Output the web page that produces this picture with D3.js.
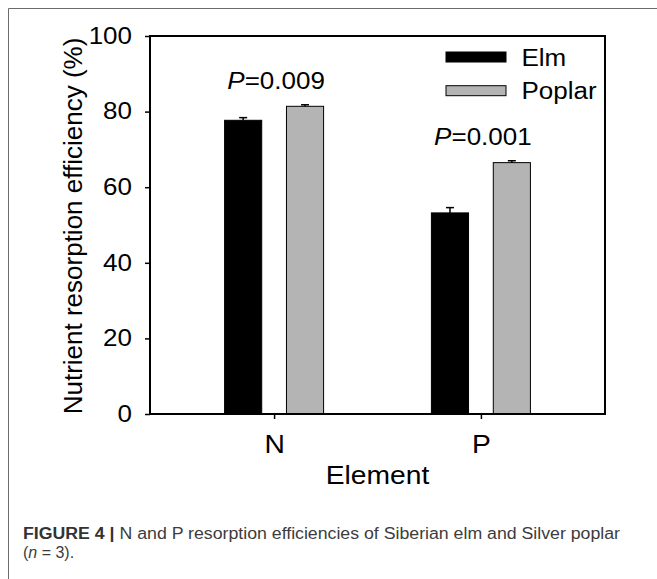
<!DOCTYPE html>
<html>
<head>
<meta charset="utf-8">
<script src="https://cdn.jsdelivr.net/npm/d3@7"></script>
<style>
  body { margin: 0; background: #fff; }
  svg { display: block; font-family: "Liberation Sans", Arial, sans-serif; }
</style>
</head>
<body>
<div id="chart"></div>
<script>
// data
const categories = ["N", "P"];
const series = ["Elm", "Poplar"];
const elmMeans = [77.7, 53.2];
const elmErr = [0.7, 1.4];
const poplarMeans = [81.4, 66.5];
const poplarErr = [0.4, 0.5];
const pValues = ["0.009", "0.001"];
const yTicks = [0, 20, 40, 60, 80, 100];
const seriesColors = ["#000000", "#b4b4b4"];

const width = 657, height = 579;
const plot = {left: 150, right: 605, top: 36, bottom: 414};
const STRETCH = 1.13; // the original figure is a bit wider than tall

const svg = d3.select("#chart").append("svg")
  .attr("width", width)
  .attr("height", height);

// outer figure frame (left + top only)
svg.append("path")
  .attr("d", "M8.5," + height + "V8.5H" + width)
  .attr("fill", "none")
  .attr("stroke", "#6b6b6b")
  .attr("stroke-width", 1);

let x = d3.scalePoint()
  .domain(categories)
  .range([plot.left, plot.right])
  .padding(0.6);

let sub = d3.scaleBand()
  .domain(series)
  .range([-49.5, 49.5])
  .paddingInner(0.4);

let y = d3.scaleLinear()
  .domain([0, 100])
  .range([plot.bottom, plot.top]);

let rows = [];
categories.forEach((c, i) => {
  rows.push({cat: c, s: "Elm", v: elmMeans[i], e: elmErr[i]});
  rows.push({cat: c, s: "Poplar", v: poplarMeans[i], e: poplarErr[i]});
});

let color = d3.scaleOrdinal().domain(series).range(seriesColors);

// bars
svg.append("g").selectAll("rect")
  .data(rows)
  .enter()
  .append("rect")
  .attr("x", d => x(d.cat) + sub(d.s))
  .attr("y", d => y(d.v))
  .attr("width", sub.bandwidth())
  .attr("height", d => y(0) - y(d.v))
  .attr("fill", d => color(d.s))
  .attr("stroke", "#000")
  .attr("stroke-width", 1);

// error bars (upper half only)
let err = svg.append("g")
  .attr("stroke", "#000")
  .attr("stroke-width", 1.5);
err.selectAll("line.v")
  .data(rows)
  .enter()
  .append("line")
  .attr("class", "v")
  .attr("x1", d => x(d.cat) + sub(d.s) + sub.bandwidth() / 2)
  .attr("x2", d => x(d.cat) + sub(d.s) + sub.bandwidth() / 2)
  .attr("y1", d => y(d.v))
  .attr("y2", d => y(d.v + d.e));
err.selectAll("line.cap")
  .data(rows)
  .enter()
  .append("line")
  .attr("class", "cap")
  .attr("x1", d => x(d.cat) + sub(d.s) + sub.bandwidth() / 2 - 4)
  .attr("x2", d => x(d.cat) + sub(d.s) + sub.bandwidth() / 2 + 4)
  .attr("y1", d => y(d.v + d.e))
  .attr("y2", d => y(d.v + d.e));

// plot frame
svg.append("rect")
  .attr("x", plot.left)
  .attr("y", plot.top)
  .attr("width", plot.right - plot.left)
  .attr("height", plot.bottom - plot.top)
  .attr("fill", "none")
  .attr("stroke", "#000")
  .attr("stroke-width", 2);

// axes
let yAxis = d3.axisLeft(y)
  .tickValues(yTicks)
  .tickSize(5)
  .tickPadding(13);
let gy = svg.append("g")
  .attr("transform", "translate(" + plot.left + ",0)")
  .call(yAxis);
gy.select(".domain").remove();
gy.selectAll("line").attr("stroke-width", 1.5);
gy.selectAll("text")
  .attr("class", "stretch")
  .attr("fill", "#000")
  .style("font-size", "23px")
  .style("font-family", "Liberation Sans, Arial, sans-serif");

let xAxis = d3.axisBottom(x)
  .tickSize(5)
  .tickPadding(16);
let gx = svg.append("g")
  .attr("transform", "translate(0," + plot.bottom + ")")
  .call(xAxis);
gx.select(".domain").remove();
gx.selectAll("line").attr("stroke-width", 1.5);
gx.selectAll("text")
  .attr("class", "stretch")
  .attr("fill", "#000")
  .style("font-size", "25px")
  .style("font-family", "Liberation Sans, Arial, sans-serif");

// axis titles
svg.append("text")
  .attr("class", "stretch")
  .attr("x", (plot.left + plot.right) / 2)
  .attr("y", 484)
  .attr("text-anchor", "middle")
  .style("font-size", "25px")
  .text("Element");

svg.append("text")
  .attr("transform", "translate(82," + ((plot.top + plot.bottom) / 2 + 1) + ") rotate(-90)")
  .attr("text-anchor", "middle")
  .style("font-size", "26px")
  .text("Nutrient resorption efficiency (%)");

// P value annotations
let ann = svg.append("g").selectAll("text")
  .data(categories)
  .enter()
  .append("text")
  .attr("class", "stretch")
  .attr("x", d => x(d) + 2)
  .attr("y", (d, i) => y(Math.max(elmMeans[i] + elmErr[i], poplarMeans[i] + poplarErr[i])) - 16)
  .attr("text-anchor", "middle")
  .style("font-size", "23px");
ann.append("tspan").style("font-style", "italic").text("P");
ann.append("tspan").text((d, i) => "=" + pValues[i]);

// legend
let legend = svg.append("g").selectAll("g")
  .data(series)
  .enter()
  .append("g")
  .attr("transform", (d, i) => "translate(446," + (52 + i * 33.7) + ")");
legend.append("rect")
  .attr("width", 60)
  .attr("height", 10)
  .attr("fill", d => color(d))
  .attr("stroke", "#000")
  .attr("stroke-width", 1);
legend.append("text")
  .attr("class", "stretch")
  .attr("x", 75.5)
  .attr("y", 13.5)
  .style("font-size", "23px")
  .text(d => d);

// widen the horizontal labels a little, like the source image
svg.selectAll("text.stretch").each(function () {
  let len = this.getComputedTextLength();
  d3.select(this)
    .attr("textLength", len * STRETCH)
    .attr("lengthAdjust", "spacingAndGlyphs");
});

// caption
let cap1 = svg.append("text")
  .attr("x", 23)
  .attr("y", 539)
  .attr("fill", "#3c3c3c")
  .attr("textLength", 597)
  .attr("lengthAdjust", "spacingAndGlyphs")
  .style("font-family", "Liberation Sans Narrow, Liberation Sans, Arial, sans-serif")
  .style("font-size", "16px");
cap1.append("tspan").style("font-weight", "bold").attr("fill", "#333").text("FIGURE 4 | ");
cap1.append("tspan").text("N and P resorption efficiencies of Siberian elm and Silver poplar");

let cap2 = svg.append("text")
  .attr("x", 23)
  .attr("y", 558)
  .attr("fill", "#3c3c3c")
  .style("font-family", "Liberation Sans Narrow, Liberation Sans, Arial, sans-serif")
  .style("font-size", "16px");
cap2.append("tspan").text("(");
cap2.append("tspan").style("font-style", "italic").text("n");
cap2.append("tspan").text(" = 3).");
</script>
</body>
</html>
